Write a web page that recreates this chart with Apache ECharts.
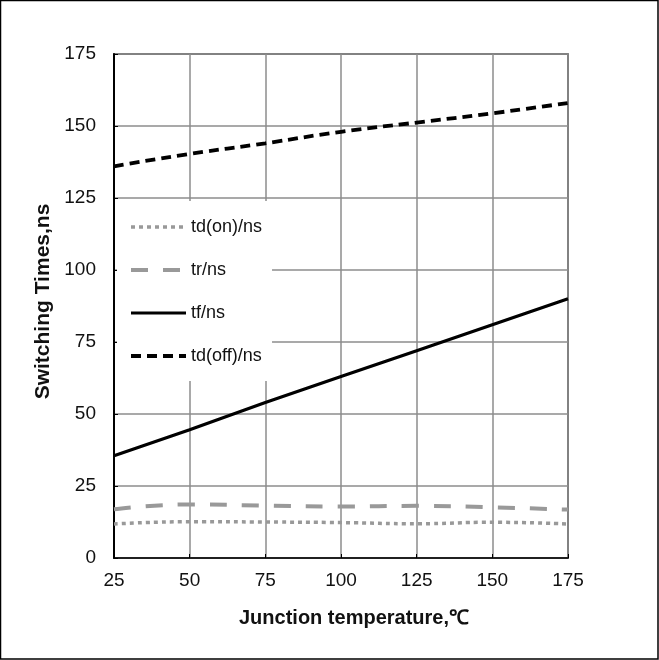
<!DOCTYPE html>
<html><head><meta charset="utf-8">
<script src="https://cdn.jsdelivr.net/npm/echarts@6/dist/echarts.min.js"></script>
<style>html,body{margin:0;padding:0;background:#fff}#c{width:659px;height:660px}</style>
</head><body><div id="c"></div>
<script>
const temps = [25, 50, 75, 100, 125, 150, 175];
const tdOn  = [11.8, 12.6, 12.5, 12.3, 11.9, 12.4, 11.8];
const tr    = [16.9, 18.6, 18.2, 17.9, 18.1, 17.6, 16.8];
const tf    = [35.5, 44.5, 54, 63, 72, 81, 90];
const tdOff = [136, 140.3, 144, 148, 151.2, 154.4, 158];
const yTicks = [0, 25, 50, 75, 100, 125, 150, 175];
const names = ['td(on)/ns', 'tr/ns', 'tf/ns', 'td(off)/ns'];

const pair = arr => temps.map((t, i) => [t, arr[i]]);
const font = 'Liberation Sans, Arial, sans-serif';
const chart = echarts.init(document.getElementById('c'));
chart.setOption({
  animation: false,
  backgroundColor: '#fff',
  graphic: [{type: 'rect', shape: {x: 0.5, y: 0.5, width: 657.5, height: 658.5},
    style: {fill: 'none', stroke: '#000', lineWidth: 1.5}, silent: true}],
  grid: {left: 114, right: 91, top: 54, bottom: 102, show: true, borderColor: '#333', borderWidth: 1.5, backgroundColor: 'transparent'},
  legend: {
    orient: 'vertical', left: 117, top: 201, itemWidth: 55, itemHeight: 14, itemGap: 25,
    backgroundColor: '#fff', padding: [17, 10, 16, 12],
    itemStyle: {opacity: 0},
    lineStyle: {width: 'inherit'},
    textStyle: {fontFamily: font, fontSize: 18, color: '#111'},
    data: names
  },
  xAxis: {
    type: 'value', min: 25, max: 175, interval: 25,
    name: 'Junction temperature,℃', nameLocation: 'middle', nameGap: 50,
    nameTextStyle: {fontFamily: font, fontSize: 20, fontWeight: 'bold', color: '#111', padding: [0, 0, 0, 26]},
    axisLine: {onZero: false, lineStyle: {color: '#000', width: 1.5}},
    axisTick: {inside: true, length: 4, lineStyle: {color: '#000'}},
    axisLabel: {fontFamily: font, fontSize: 19, color: '#111', margin: 13},
    splitLine: {show: true, lineStyle: {color: '#8c8c8c', width: 1.5}}
  },
  yAxis: {
    type: 'value', min: 0, max: 175, interval: 25,
    name: 'Switching Times,ns', nameLocation: 'middle', nameGap: 55,
    nameTextStyle: {fontFamily: font, fontSize: 21, fontWeight: 'bold', color: '#111', padding: [0, 0, 0, 9]},
    axisLine: {show: true, lineStyle: {color: '#000', width: 2}},
    axisTick: {show: true, inside: true, length: 4, lineStyle: {color: '#000'}},
    axisLabel: {fontFamily: font, fontSize: 19, color: '#111', margin: 18,
      formatter: v => yTicks.includes(v) ? String(v) : ''},
    splitLine: {show: true, lineStyle: {color: '#8c8c8c', width: 1.5}}
  },
  series: [
    {name: names[0], type: 'line', data: pair(tdOn), symbol: 'none', smooth: true, z: 3,
      lineStyle: {color: '#999', width: 3.5, type: [4, 4]}, itemStyle: {color: '#999'}},
    {name: names[1], type: 'line', data: pair(tr), symbol: 'none', smooth: true, z: 3,
      lineStyle: {color: '#999', width: 4, type: [17, 15]}, itemStyle: {color: '#999'}},
    {name: names[2], type: 'line', data: pair(tf), symbol: 'none', z: 3,
      lineStyle: {color: '#000', width: 3.2}, itemStyle: {color: '#000'}},
    {name: names[3], type: 'line', data: pair(tdOff), symbol: 'none', smooth: true, z: 3,
      lineStyle: {color: '#000', width: 3.8, type: [10, 6]}, itemStyle: {color: '#000'}}
  ]
});
</script></body></html>
